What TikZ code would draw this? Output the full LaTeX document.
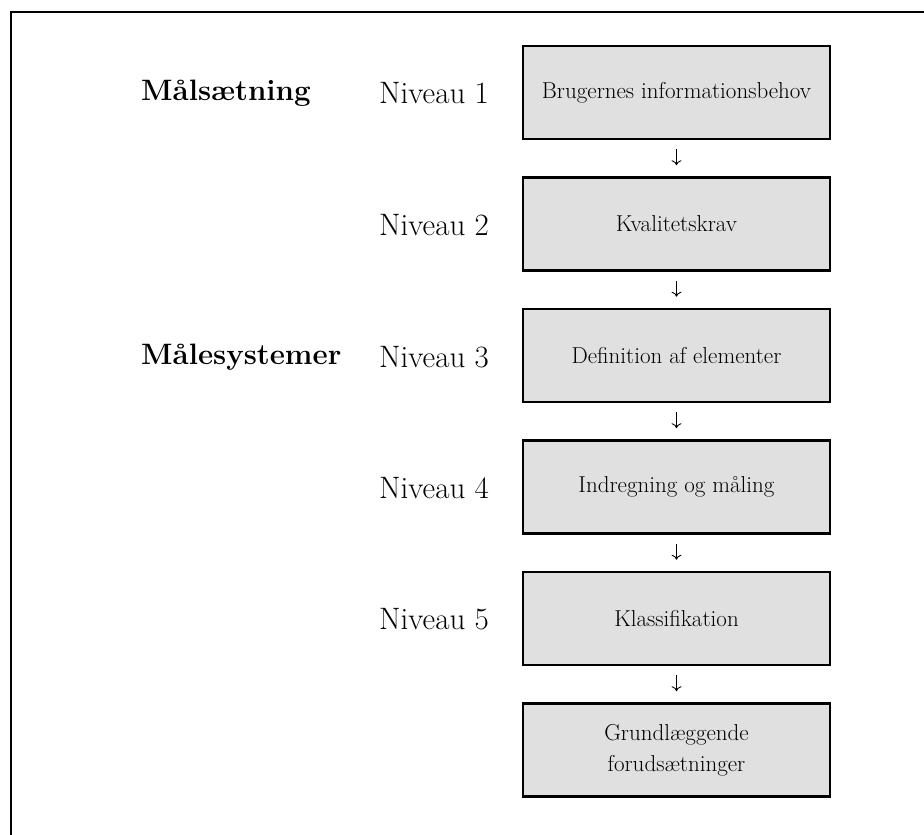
\documentclass[tikz,border=0pt]{standalone}
\usetikzlibrary{positioning,arrows.meta}
\definecolor{boxgray}{RGB}{224,224,224}

\tikzset{
  niveaubox/.style={draw,fill=boxgray,line width=2.6pt,minimum width=307pt,
    minimum height=93pt,align=center,inner sep=0pt,
    font=\fontsize{23}{31}\selectfont},
  niveaulabel/.style={anchor=west,inner sep=0pt,font=\fontsize{31}{36}\selectfont},
  grouplabel/.style={anchor=west,inner sep=0pt,font=\fontsize{29.5}{34}\selectfont\bfseries},
  flow/.style={-{To[length=5pt,width=10pt]},line width=0.9pt,shorten <=9pt,shorten >=11pt}
}

\begin{document}
\begin{tikzpicture}[x=1pt,y=-1pt]
      \useasboundingbox (0,0) rectangle (924,835);
      \draw[line width=2.6pt] (11,835) -- (11,12) -- (924,12);
      \node[niveaubox] (B1) at (676.5,92.5) {Brugernes informationsbehov};
      \node[niveaubox] (B2) at (676.5,224) {Kvalitetskrav};
      \node[niveaubox] (B3) at (676.5,355.5) {Definition af elementer};
      \node[niveaubox] (B4) at (676.5,487) {Indregning og m\aa ling};
      \node[niveaubox] (B5) at (676.5,618.5) {Klassifikation};
      \node[niveaubox] (B6) at (676.5,750) {Grundl\ae ggende\\foruds\ae tninger};
      \node[niveaulabel] (N1) at (379,93.5) {Niveau 1};
      \node[niveaulabel] (N2) at (379,225) {Niveau 2};
      \node[niveaulabel] (N3) at (379,357) {Niveau 3};
      \node[niveaulabel] (N4) at (379,488) {Niveau 4};
      \node[niveaulabel] (N5) at (379,619.5) {Niveau 5};
      \node[grouplabel] (G1) at (141,93.5) {M\aa ls\ae tning};
      \node[grouplabel] (G2) at (141,357) {M\aa lesystemer};
      \draw[flow] (B1) -- (B2);
      \draw[flow] (B2) -- (B3);
      \draw[flow] (B3) -- (B4);
      \draw[flow] (B4) -- (B5);
      \draw[flow] (B5) -- (B6);
    \end{tikzpicture}
\end{document}
